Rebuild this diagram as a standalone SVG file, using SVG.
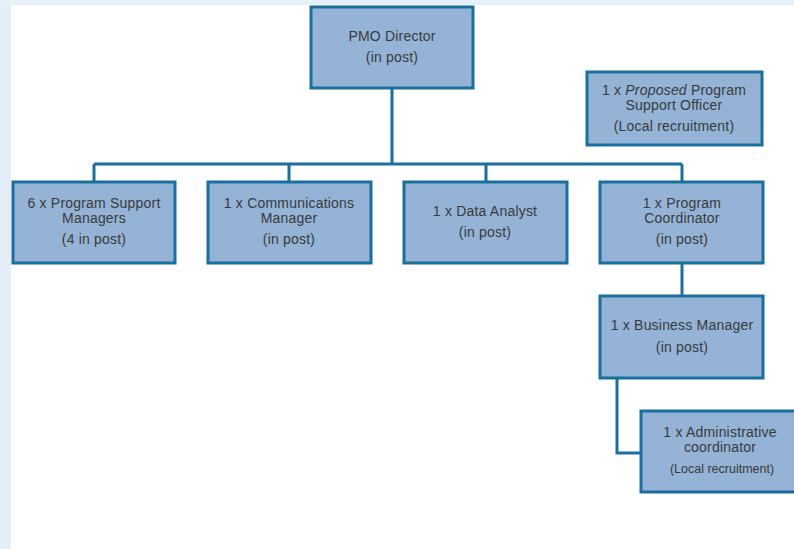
<svg xmlns="http://www.w3.org/2000/svg" width="794" height="549" viewBox="0 0 794 549">
<defs>
<style>
.box{fill:#94b3d7;stroke:#1b6f9c;stroke-width:3}
.con{fill:none;stroke:#1b6f9c;stroke-width:3}
text{font-family:"Liberation Sans",Arial,sans-serif;font-size:14px;letter-spacing:0.2px;fill:#3a3a3a;text-anchor:middle}
.sm{font-size:12.5px;letter-spacing:0}
</style>
</defs>
<rect x="0" y="0" width="794" height="549" fill="#ffffff"/>
<rect x="0" y="0" width="11" height="549" fill="#e3eef8"/>
<rect x="0" y="0" width="794" height="5" fill="#e6f0f7"/>
<g id="connectors">
<path class="con" d="M392 88V164M94 164H682M94 164V182M289 164V182M486 164V182M682 164V182"/>
<path class="con" d="M682 263V296"/>
<path class="con" d="M617 378V453H641"/>
</g>
<g id="pmo-director">
<rect class="box" x="311" y="7" width="162" height="81"/>
<text x="392" y="41">PMO Director</text>
<text x="392" y="62">(in post)</text>
</g>
<g id="proposed-pso">
<rect class="box" x="587" y="72" width="175" height="73"/>
<text x="674" y="95">1 x <tspan font-style="italic">Proposed</tspan> Program</text>
<text x="674" y="110">Support Officer</text>
<text x="674" y="131">(Local recruitment)</text>
</g>
<g id="psm">
<rect class="box" x="13" y="182" width="162" height="81"/>
<text x="94" y="208">6 x Program Support</text>
<text x="94" y="223">Managers</text>
<text x="94" y="244">(4 in post)</text>
</g>
<g id="comms">
<rect class="box" x="208" y="182" width="163" height="81"/>
<text x="289" y="208">1 x Communications</text>
<text x="289" y="223">Manager</text>
<text x="289" y="244">(in post)</text>
</g>
<g id="data-analyst">
<rect class="box" x="404" y="182" width="163" height="81"/>
<text x="485" y="216">1 x Data Analyst</text>
<text x="485" y="237">(in post)</text>
</g>
<g id="program-coordinator">
<rect class="box" x="600" y="182" width="163" height="81"/>
<text x="682" y="208">1 x Program</text>
<text x="682" y="223">Coordinator</text>
<text x="682" y="244">(in post)</text>
</g>
<g id="business-manager">
<rect class="box" x="600" y="296" width="163" height="82"/>
<text x="682" y="330">1 x Business Manager</text>
<text x="682" y="352">(in post)</text>
</g>
<g id="admin-coordinator">
<rect class="box" x="641" y="411" width="155" height="81"/>
<text x="720" y="437">1 x Administrative</text>
<text x="720" y="452">coordinator</text>
<text class="sm" x="722" y="473">(Local recruitment)</text>
</g>
</svg>
